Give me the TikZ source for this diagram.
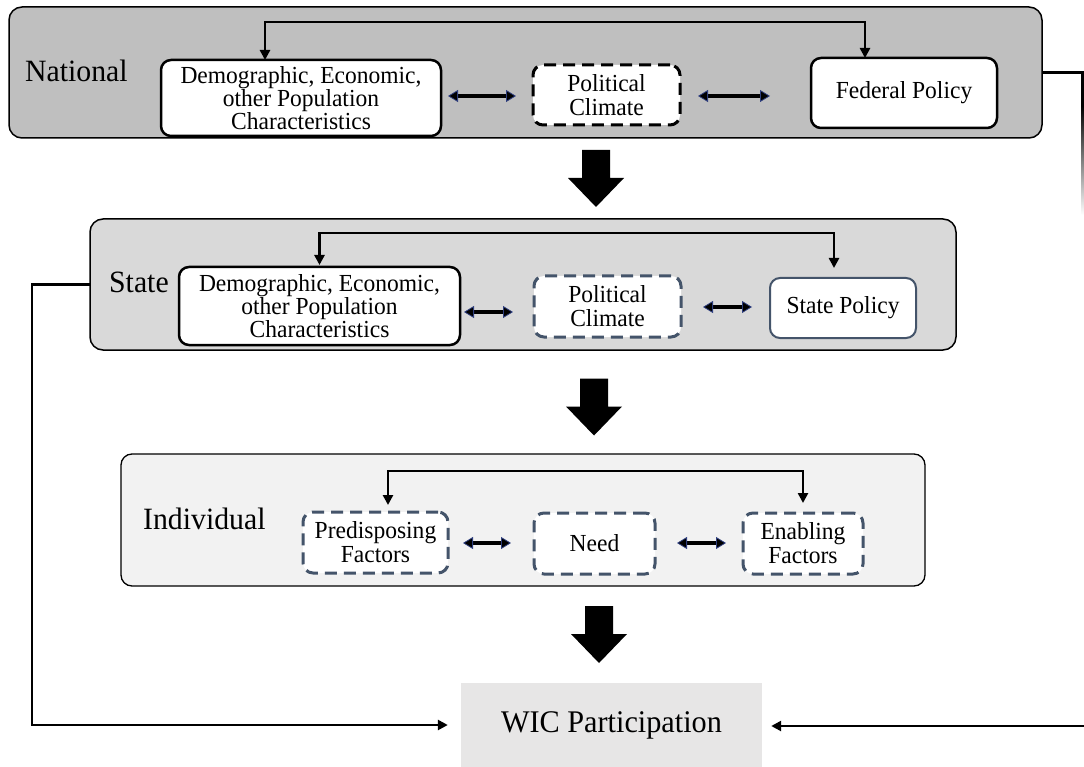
\documentclass[tikz,border=0pt]{standalone}
\usepackage{fontspec}
\setmainfont{Liberation Serif}[FakeStretch=0.96]
\usetikzlibrary{arrows.meta,calc}
\definecolor{natgray}{HTML}{BFBFBF}
\definecolor{stgray}{HTML}{D9D9D9}
\definecolor{indgray}{HTML}{F2F2F2}
\definecolor{wicgray}{HTML}{E7E6E6}
\definecolor{slate}{HTML}{44546A}
\definecolor{arrowblue}{HTML}{2F3F7F}
\newcommand{\myboxfont}{\fontsize{24.5}{24}\selectfont}
\newcommand{\mythreefont}{\fontsize{24.5}{21.5}\selectfont}
\newcommand{\mylvlfont}{\fontsize{31}{33}\selectfont}
\newcommand{\mywicfont}{\fontsize{31.5}{34}\selectfont}
\newcommand{\myblockarrow}[1]{\fill (#1) ++(-14,-28.5) -- ++(28,0) -- ++(0,28) -- ++(14,0) -- ++(-28,29) -- ++(-28,-29) -- ++(14,0) -- cycle;}
\tikzset{
  lvlbox/.style={draw=black, line width=1.5pt, rounded corners=13pt, inner sep=0pt, outer sep=0pt},
  ibox/.style={draw=black, fill=white, line width=2.5pt, rounded corners=10pt, align=center, inner sep=0pt, outer sep=0pt, font=\myboxfont},
  threebox/.style={ibox, font=\mythreefont},
  dbox/.style={ibox, dash pattern=on 12pt off 7pt, line width=3pt},
  lvl/.style={font=\mylvlfont, inner sep=0pt, anchor=base west},
  conn/.style={line width=2.8pt, -{Triangle[length=10pt,width=10pt]}},
  conn2/.style={line width=2.8pt, {Triangle[length=10pt,width=10pt]}-{Triangle[length=10pt,width=10pt]}},
  dbl/.style={line width=4pt, {Triangle[length=10pt,width=12pt,line width=0.8pt,color=arrowblue,fill=black]}-{Triangle[length=10pt,width=12pt,line width=0.8pt,color=arrowblue,fill=black]}}
}
\begin{document}
\begin{tikzpicture}[x=1pt,y=-1pt]
\useasboundingbox (0,0) rectangle (1084,767);
% ---------- National ----------
\node[lvlbox, fill=natgray, minimum width=1033pt, minimum height=131pt] (nat) at (525.5,72.5) {};
\node[lvl] (natL) at (25,82) {National};
\node[threebox, minimum width=280pt, minimum height=76pt] (dN) at (301,98) {Demographic, Economic,\\other Population\\Characteristics};
\node[dbox, minimum width=147pt, minimum height=60pt] (pN) at (606.5,95) {Political\\Climate};
\node[ibox, minimum width=186pt, minimum height=70pt] (fN) at (904,93) {Federal Policy};
\draw[dbl] ($(dN.east)+(7,-2)$) -- ($(pN.west)+(-17,1)$);
\draw[dbl] ($(pN.east)+(18,1)$) -- ($(fN.west)+(-41,3)$);
\coordinate (nTop) at (0,22);
\coordinate (na1) at ([xshift=-36pt]dN.north);
\coordinate (na2) at ([xshift=-39pt]fN.north);
\draw[conn2] (na1) -- (na1 |- nTop) -- (na2 |- nTop) -- (na2);
% right connector (fading)
\coordinate (rX) at (1082.5,0);
\draw[line width=2.5pt] (nat.east) -- (nat.east -| rX) -- ++(0,34);
\shade[top color=black, bottom color=white] (1081.25,106) rectangle (1083.75,215);
% block arrow 1
\coordinate (b1) at (596,178.5);
\myblockarrow{b1}
% ---------- State ----------
\node[lvlbox, fill=stgray, minimum width=866pt, minimum height=131pt] (st) at (523,284.5) {};
\node[lvl] (stL) at (109,293) {State};
\node[threebox, minimum width=281pt, minimum height=78pt] (dS) at (319.5,306) {Demographic, Economic,\\other Population\\Characteristics};
\node[dbox, draw=slate, minimum width=147pt, minimum height=61pt] (pS) at (607.5,306.5) {Political\\Climate};
\node[ibox, draw=slate, line width=2pt, minimum width=146pt, minimum height=60pt] (sP) at (843,308) {State Policy};
\draw[dbl] ($(dS.east)+(4,6)$) -- ($(pS.west)+(-21,5.5)$);
\draw[dbl] ($(pS.east)+(22,0.5)$) -- ($(sP.west)+(-18,-1)$);
\coordinate (sTop) at (0,233);
\coordinate (sa1) at (dS.north);
\coordinate (sa2) at ([xshift=-9pt]sP.north);
\draw[conn2, shorten <=2pt, shorten >=10pt] (sa1) -- (sa1 |- sTop) -- (sa2 |- sTop) -- (sa2);
% block arrow 2
\coordinate (b2) at (594,407);
\myblockarrow{b2}
% ---------- Individual ----------
\node[lvlbox, line width=1.3pt, rounded corners=11pt, fill=indgray, minimum width=804pt, minimum height=132pt] (ind) at (523,520) {};
\node[lvl] (indL) at (143,529) {Individual};
\node[dbox, draw=slate, minimum width=145pt, minimum height=61pt] (prF) at (375.5,542.5) {Predisposing\\Factors};
\node[dbox, draw=slate, minimum width=121pt, minimum height=61pt] (need) at (594.5,543.5) {Need};
\node[dbox, draw=slate, minimum width=120pt, minimum height=61pt] (enF) at (803,543.5) {Enabling\\Factors};
\draw[dbl] ($(prF.east)+(15,0.5)$) -- ($(need.west)+(-23,-0.5)$);
\draw[dbl] ($(need.east)+(22,-0.5)$) -- ($(enF.west)+(-17,-0.5)$);
\coordinate (iTop) at (0,471);
\coordinate (ia1) at ([xshift=12.5pt]prF.north);
\coordinate (ia2) at (enF.north);
\draw[conn2, shorten <=7pt, shorten >=10pt] (ia1) -- (ia1 |- iTop) -- (ia2 |- iTop) -- (ia2);
% block arrow 3
\coordinate (b3) at (599,634.5);
\myblockarrow{b3}
% ---------- WIC ----------
\node[fill=wicgray, minimum width=301pt, minimum height=84pt, inner sep=0pt, font=\mywicfont] (wic) at (611.5,725) {WIC Participation};
\coordinate (xL) at (32,0);
\draw[conn, shorten >=13pt] (st.west) -- (st.west -| xL) |- (wic.west);
\coordinate (rEdge) at (1084,726);
\draw[conn, shorten >=9pt] (rEdge) -- (rEdge -| wic.east);
\end{tikzpicture}
\end{document}
